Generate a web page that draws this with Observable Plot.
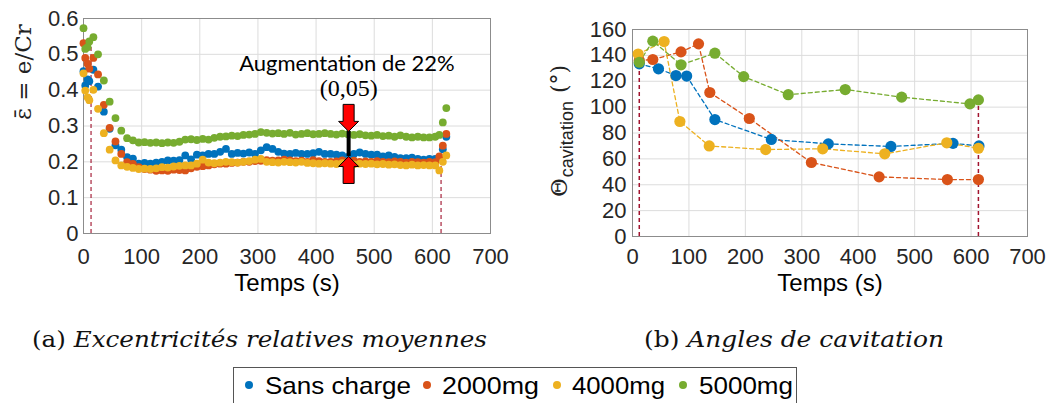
<!DOCTYPE html>
<html><head><meta charset="utf-8">
<script src="https://cdn.jsdelivr.net/npm/d3@7"></script>
<script src="https://cdn.jsdelivr.net/npm/@observablehq/plot@0.6"></script>
<style>
body{margin:0;background:#fff;width:1047px;height:403px;position:relative;overflow:hidden}
#left{position:absolute;left:0;top:0}
#right{position:absolute;left:520px;top:0}
#bottom{position:absolute;left:0;top:300px}
</style></head><body>
<div id="left"></div><div id="right"></div><svg id="bottom" width="1047" height="103"></svg>
<script>
// ---------- data ----------
const seriesNames = ["Sans charge", "2000mg", "4000mg", "5000mg"];
const seriesColors = ["#0072BD", "#D95319", "#EDB120", "#77AC30"];
const xTicks = [0, 100, 200, 300, 400, 500, 600, 700];
const yTicksA = [0, 0.1, 0.2, 0.3, 0.4, 0.5, 0.6];
const yTicksB = [0, 20, 40, 60, 80, 100, 120, 140, 160];

// (a) mean relative eccentricity vs time
const tA = [0, 3, 7, 10, 17, 25, 35, 45, 55, 65, 75, 85, 95,
  105, 115, 125, 135, 145, 155, 165, 175, 185, 195,
  205, 215, 225, 235, 245, 255, 265, 275, 285, 295,
  305, 315, 325, 335, 345, 355, 365, 375, 385, 395,
  405, 415, 425, 435, 445, 455, 465, 475, 485, 495,
  505, 515, 525, 535, 545, 555, 565, 575, 585, 595, 605,
  612, 618, 624];
const epsSansCharge = [0.453, 0.413, 0.43, 0.425, 0.457, 0.41, 0.34, 0.292, 0.246, 0.234, 0.213, 0.209, 0.195,
  0.197, 0.195, 0.198, 0.2, 0.204, 0.203, 0.205, 0.218, 0.207, 0.22,
  0.218, 0.222, 0.222, 0.228, 0.236, 0.222, 0.225, 0.223, 0.226, 0.222,
  0.232, 0.241, 0.236, 0.228, 0.223, 0.222, 0.225, 0.222, 0.222, 0.224,
  0.228, 0.222, 0.222, 0.22, 0.218, 0.214, 0.222, 0.226, 0.222, 0.22,
  0.22, 0.215, 0.218, 0.214, 0.21, 0.21, 0.212, 0.208, 0.206, 0.208, 0.208,
  0.21, 0.235, 0.27];
const eps2000 = [0.531, 0.49, 0.474, 0.46, 0.49, 0.444, 0.359, 0.295, 0.257, 0.222, 0.199, 0.194, 0.185,
  0.18, 0.178, 0.175, 0.176, 0.175, 0.178, 0.177, 0.176, 0.182, 0.186,
  0.188, 0.19, 0.193, 0.195, 0.195, 0.197, 0.198, 0.2, 0.2, 0.202,
  0.203, 0.205, 0.203, 0.204, 0.206, 0.204, 0.202, 0.203, 0.2, 0.205,
  0.202, 0.2, 0.2, 0.201, 0.204, 0.202, 0.203, 0.2, 0.201, 0.2,
  0.202, 0.2, 0.199, 0.201, 0.2, 0.198, 0.2, 0.199, 0.198, 0.2, 0.199,
  0.215, 0.245, 0.278];
const eps4000 = [0.447, 0.399, 0.38, 0.372, 0.401, 0.348, 0.28, 0.234, 0.204, 0.19, 0.186, 0.183, 0.18,
  0.181, 0.18, 0.182, 0.185, 0.184, 0.187, 0.189, 0.19, 0.19, 0.195,
  0.206, 0.198, 0.196, 0.198, 0.2, 0.199, 0.198, 0.2, 0.202, 0.206,
  0.208, 0.2, 0.199, 0.198, 0.2, 0.199, 0.198, 0.2, 0.197, 0.196,
  0.195, 0.196, 0.195, 0.194, 0.196, 0.195, 0.193, 0.195, 0.194, 0.195,
  0.193, 0.194, 0.192, 0.193, 0.191, 0.19, 0.192, 0.19, 0.191, 0.19, 0.19,
  0.176, 0.2, 0.218];
const eps5000 = [0.573, 0.515, 0.52, 0.536, 0.548, 0.5, 0.427, 0.368, 0.322, 0.287, 0.266, 0.26, 0.254,
  0.255, 0.253, 0.254, 0.252, 0.254, 0.253, 0.256, 0.262, 0.263, 0.261,
  0.264, 0.262, 0.267, 0.27, 0.271, 0.273, 0.272, 0.275, 0.276, 0.278,
  0.283, 0.281, 0.279, 0.28, 0.278, 0.281, 0.276, 0.278, 0.28, 0.277,
  0.278, 0.28, 0.278, 0.276, 0.279, 0.277, 0.275, 0.277, 0.274, 0.273,
  0.275, 0.272, 0.273, 0.27, 0.274, 0.27, 0.268, 0.27, 0.268, 0.268, 0.27,
  0.275, 0.31, 0.35];

// (b) cavitation angle vs time
const tB_SansCharge = [12, 46, 77, 96, 146, 246, 347, 458, 568, 614];
const thetaSansCharge = [133.5, 129.6, 124.4, 124, 90.4, 75, 71.6, 69.6, 72, 70];
const tB_2000 = [12, 36, 86, 117, 137, 207, 317, 437, 558, 613];
const theta2000 = [136, 136.8, 142.7, 148.9, 111.3, 91.2, 57.2, 46.1, 44, 44];
const tB_4000 = [10, 56, 84, 136, 236, 337, 447, 557, 613];
const theta4000 = [141, 150.7, 88.9, 70, 67.2, 67.8, 63.9, 72.4, 68.2];
const tB_5000 = [12, 36, 86, 146, 197, 276, 377, 477, 598, 613];
const theta5000 = [134.7, 151, 132.7, 141.7, 123.6, 109.6, 113.6, 107.7, 102.5, 105.6];

// start / stop markers
const markT_A = [13, 615];
const markTop_A = [0.53, 0.2];
const markT_B = [12, 613];
const markTop_B = [133, 105];

// annotation (a)
const annoT = 456;
const annoHigh = 0.285;
const annoLow = 0.215;
const annoLabels = ["Augmentation de 22%", "(0,05)"];
const annoLabelT = [453, 456];
const annoLabelY = [0.472, 0.405];

const captions = ["(a) ", "Excentricités relatives moyennes", "(b) ", "Angles de cavitation"];

// ---------- tables ----------
const epsAll = [epsSansCharge, eps2000, eps4000, eps5000];
const dataA = epsAll.flatMap((vals, i) => vals.map((v, j) => ({series: seriesNames[i], t: tA[j], v})));
const tBAll = [tB_SansCharge, tB_2000, tB_4000, tB_5000];
const thAll = [thetaSansCharge, theta2000, theta4000, theta5000];
const dataB = thAll.flatMap((vals, i) => vals.map((v, j) => ({series: seriesNames[i], t: tBAll[i][j], v})));
const marksA = markT_A.map((t, i) => ({t, lo: 0, hi: markTop_A[i]}));
const marksB = markT_B.map((t, i) => ({t, lo: 0, hi: markTop_B[i]}));
const anno = [{t: annoT, hi: annoHigh, lo: annoLow}];
const annoText = annoLabels.map((label, i) => ({label, t: annoLabelT[i], y: annoLabelY[i]}));

const colorScale = {domain: seriesNames, range: seriesColors};
const gridColor = "#dcdcdc";
const frameColor = "#8c8c8c";
const markColor = "#A2142F";

const arrowDown = {draw(ctx) { // tip at origin pointing down
  const hw = 10, hl = 10, sw = 5.5, sl = 17;
  ctx.moveTo(0, 0); ctx.lineTo(hw, -hl); ctx.lineTo(sw, -hl); ctx.lineTo(sw, -hl - sl);
  ctx.lineTo(-sw, -hl - sl); ctx.lineTo(-sw, -hl); ctx.lineTo(-hw, -hl); ctx.closePath();
}};
const arrowUp = {draw(ctx) { // tip at origin pointing up
  const hw = 10, hl = 10, sw = 5.5, sl = 17;
  ctx.moveTo(0, 0); ctx.lineTo(hw, hl); ctx.lineTo(sw, hl); ctx.lineTo(sw, hl + sl);
  ctx.lineTo(-sw, hl + sl); ctx.lineTo(-sw, hl); ctx.lineTo(-hw, hl); ctx.closePath();
}};

const fmt = d => String(d);

// ---------- chart (a) ----------
const left = Plot.plot({
  width: 520, height: 300,
  marginLeft: 83, marginRight: 30, marginTop: 18, marginBottom: 67,
  style: {fontFamily: "Liberation Sans", fontSize: "22px", color: "#262626", background: "transparent", overflow: "visible"},
  x: {domain: [0, 700]},
  y: {domain: [0, 0.6]},
  color: colorScale,
  marks: [
    Plot.gridX(xTicks, {stroke: gridColor, strokeOpacity: 1}),
    Plot.gridY(yTicksA, {stroke: gridColor, strokeOpacity: 1}),
    Plot.frame({stroke: frameColor}),
    Plot.axisX(xTicks, {tickSize: 0, tickPadding: 15, tickFormat: fmt, label: null}),
    Plot.axisY(yTicksA, {tickSize: 0, tickPadding: 5, tickFormat: fmt, label: null}),
    Plot.ruleX(marksA, {x: "t", y1: "lo", y2: "hi", stroke: markColor, strokeWidth: 1.5, strokeDasharray: "4,3", strokeOpacity: 0.75}),
    Plot.dot(dataA, {x: "t", y: "v", fill: "series", r: 3.9}),
    Plot.ruleX(anno, {x: "t", y1: "lo", y2: "hi", stroke: "black", strokeWidth: 4}),
    Plot.dot(anno, {x: "t", y: "hi", symbol: arrowDown, fill: "#ff0000", stroke: "#000", strokeWidth: 1}),
    Plot.dot(anno, {x: "t", y: "lo", symbol: arrowUp, fill: "#ff0000", stroke: "#000", strokeWidth: 1}),
    Plot.text(annoText.slice(0, 1), {x: "t", y: "y", text: "label", fontFamily: "Lato", fontSize: 22, fill: "#000"}),
    Plot.text(annoText.slice(1), {x: "t", y: "y", text: "label", fontFamily: "Liberation Serif", fontSize: 24, fill: "#000"}),
    Plot.text(["Temps (s)"], {frameAnchor: "bottom", lineAnchor: "middle", dy: 50, text: d => d, fontSize: 24, fill: "#000"}),
    Plot.text(["\u03B5\u0304 = e/Cr"], {frameAnchor: "left", dx: -60, dy: -6, rotate: -90, text: d => d, fontFamily: "DejaVu Serif", fontSize: 23, fill: "#222"})
  ]
});
document.getElementById("left").append(left);

// ---------- chart (b) ----------
const right = Plot.plot({
  width: 527, height: 300,
  marginLeft: 112, marginRight: 20, marginTop: 29, marginBottom: 64,
  style: {fontFamily: "Liberation Sans", fontSize: "22px", color: "#262626", background: "transparent", overflow: "visible"},
  x: {domain: [0, 700]},
  y: {domain: [0, 160]},
  color: colorScale,
  marks: [
    Plot.gridX(xTicks, {stroke: gridColor, strokeOpacity: 1}),
    Plot.gridY(yTicksB, {stroke: gridColor, strokeOpacity: 1}),
    Plot.frame({stroke: frameColor}),
    Plot.axisX(xTicks, {tickSize: 0, tickPadding: 12, tickFormat: fmt, label: null}),
    Plot.axisY(yTicksB, {tickSize: 0, tickPadding: 6, tickFormat: fmt, label: null}),
    Plot.ruleX(marksB, {x: "t", y1: "lo", y2: "hi", stroke: markColor, strokeWidth: 1.5, strokeDasharray: "4,3"}),
    Plot.line(dataB, {x: "t", y: "v", z: "series", stroke: "series", strokeWidth: 1.3, strokeDasharray: "4,3"}),
    Plot.dot(dataB, {x: "t", y: "v", fill: "series", r: 5.6}),
    Plot.text(["Temps (s)"], {frameAnchor: "bottom", lineAnchor: "middle", dy: 47, text: d => d, fontSize: 24, fill: "#000"})
  ]
});
document.getElementById("right").append(right);

// rotated y label with subscript for (b)
const ylab = d3.select(right).append("text")
  .attr("transform", "translate(47,197) rotate(-90)")
  .attr("text-anchor", "start")
  .attr("fill", "#222").attr("font-family", "Liberation Sans");
ylab.append("tspan").attr("font-family", "DejaVu Serif").attr("font-size", 23).text("\u0398");
ylab.append("tspan").attr("font-size", 18).attr("dy", 6).attr("dx", 1).text("cavitation");
ylab.append("tspan").attr("font-family", "DejaVu Serif").attr("font-size", 22).attr("dy", -6).attr("dx", 8).text("(\u00B0)");

// ---------- captions & legend ----------
const bottom = d3.select("#bottom");
const capA = bottom.append("text").attr("x", 32).attr("y", 47)
  .attr("font-family", "DejaVu Serif").attr("font-size", 23).attr("fill", "#111")
  .attr("textLength", 455).attr("lengthAdjust", "spacingAndGlyphs");
capA.append("tspan").text(captions[0]);
capA.append("tspan").attr("font-style", "italic").text(captions[1]);
const capB = bottom.append("text").attr("x", 644).attr("y", 47)
  .attr("font-family", "DejaVu Serif").attr("font-size", 23).attr("fill", "#111")
  .attr("textLength", 300).attr("lengthAdjust", "spacingAndGlyphs");
capB.append("tspan").text(captions[2]);
capB.append("tspan").attr("font-style", "italic").text(captions[3]);

bottom.append("rect").attr("x", 233.5).attr("y", 67.5).attr("width", 563).attr("height", 50)
  .attr("fill", "white").attr("stroke", "#555");
const legDotX = [249, 427, 557, 683];
const legTextX = [265, 442, 572, 699];
const legTextW = [146, 97, 93, 94];
seriesNames.forEach((name, i) => {
  bottom.append("circle").attr("cx", legDotX[i]).attr("cy", 85).attr("r", 4).attr("fill", seriesColors[i]);
  bottom.append("text").attr("x", legTextX[i]).attr("y", 94)
    .attr("font-family", "Liberation Sans").attr("font-size", 24).attr("fill", "#000")
    .attr("textLength", legTextW[i]).attr("lengthAdjust", "spacingAndGlyphs").text(name);
});
</script>
</body></html>
